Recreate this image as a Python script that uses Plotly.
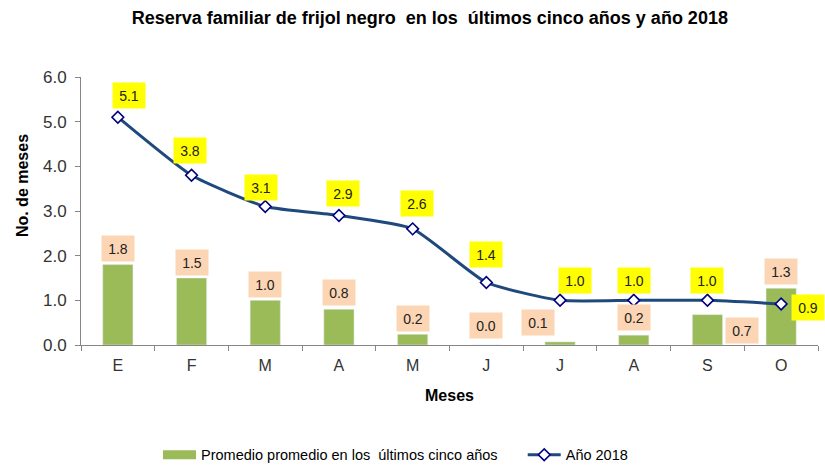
import plotly.graph_objects as go

# data
meses = ["E", "F", "M", "A", "M", "J", "J", "A", "S", "O"]
promedio_5_anios = [1.8, 1.5, 1.0, 0.8, 0.24, 0.0, 0.07, 0.22, 0.68, 1.27]
anio_2018 = [5.1, 3.8, 3.1, 2.9, 2.6, 1.4, 1.0, 1.0, 1.0, 0.92]
y_ticks = [0, 1, 2, 3, 4, 5, 6]

# label offsets in px (xshift, yshift), Excel-style manual placement
bar_lbl_off = [(0, 16), (0, 16), (0, 16), (0, 17), (0, 16), (0, 20), (-22, 19), (0, 18), (35, -16), (0, 17)]
line_lbl_off = [(11, 22), (-2, 25), (-4, 19), (4, 22), (4, 25), (0, 28), (15, 20), (0, 20), (0, 20), (27, -4)]

FONT = "Liberation Sans, Arial"
GREEN = "#9BBB59"
BAR_NAME = "Promedio promedio en los  últimos cinco años"
xs = list(range(len(meses)))

fig = go.Figure()
fig.add_trace(go.Bar(x=xs, y=promedio_5_anios, width=0.41, marker_color=GREEN,
                     name=BAR_NAME, showlegend=False))
# legend-only stand-in so the bar key shows as a wide block like in Excel
fig.add_trace(go.Scatter(x=[None], y=[None], mode="lines", line=dict(color=GREEN, width=9),
                         name=BAR_NAME + "\u00a0" * 5))
fig.add_trace(go.Scatter(x=xs, y=anio_2018, mode="lines+markers", name="Año 2018",
                         line=dict(color="#1F497D", width=3, shape="spline", smoothing=0.5),
                         marker=dict(symbol="diamond", size=9, color="white",
                                     line=dict(color="#00007F", width=1.6))))

annos = []
for i, v in enumerate(promedio_5_anios):
    dx, dy = bar_lbl_off[i]
    annos.append(dict(x=i, y=v, text=f"{v:.1f}", showarrow=False, xshift=dx, yshift=dy,
                      bgcolor="#FCD5B4", width=30, height=23, font=dict(size=14, color="#222")))
for i, v in enumerate(anio_2018):
    dx, dy = line_lbl_off[i]
    annos.append(dict(x=i, y=v, text=f"{v:.1f}", showarrow=False, xshift=dx, yshift=dy,
                      bgcolor="#FFFF00", width=30, height=23, font=dict(size=14, color="#222")))

annos.append(dict(text="<b>No. de meses</b>", textangle=-90, xref="paper", yref="paper",
                  x=-0.08, y=0.593, xanchor="center", yanchor="middle", showarrow=False,
                  font=dict(size=16, color="black")))
annos.append(dict(text="<b>Meses</b>", xref="paper", yref="paper", x=0.5, y=-0.187,
                  xanchor="center", yanchor="middle", showarrow=False,
                  font=dict(size=16, color="black")))

fig.update_layout(
    width=825, height=465,
    margin=dict(l=81, r=7, t=77, b=120),
    paper_bgcolor="white", plot_bgcolor="white",
    font=dict(family=FONT, size=15, color="#333"),
    title=dict(text="<b>Reserva familiar de frijol negro  en los  últimos cinco años y año 2018</b>",
               x=0.521, xanchor="center", y=0.961, yanchor="middle",
               font=dict(size=18, color="black")),
    showlegend=True,
    legend=dict(orientation="h", xref="container", x=0.1915, xanchor="left", yref="container",
                y=0.022, yanchor="middle", font=dict(size=14.5, color="black"),
                itemwidth=33, bgcolor="rgba(0,0,0,0)"),
    annotations=annos,
    bargap=0.59,
)
fig.update_xaxes(range=[-0.5, len(meses) - 0.5], tickvals=xs, ticktext=meses, ticks="",
                 showline=True, linecolor="#868686", linewidth=1, showgrid=False, zeroline=False,
                 minor=dict(ticks="outside", tick0=-0.5, dtick=1, ticklen=5, tickcolor="#868686"),
                 tickfont=dict(size=16), ticklabelstandoff=6)
fig.update_yaxes(range=[0, 6], tickvals=y_ticks, tickformat=".1f", ticks="outside", ticklen=5,
                 tickcolor="#868686", showline=True, linecolor="#868686", linewidth=1,
                 showgrid=False, zeroline=False, tickfont=dict(size=17), ticklabelstandoff=5)

fig.write_html("out.html", config={"displayModeBar": False},
               post_script="document.body.style.margin='0';")
